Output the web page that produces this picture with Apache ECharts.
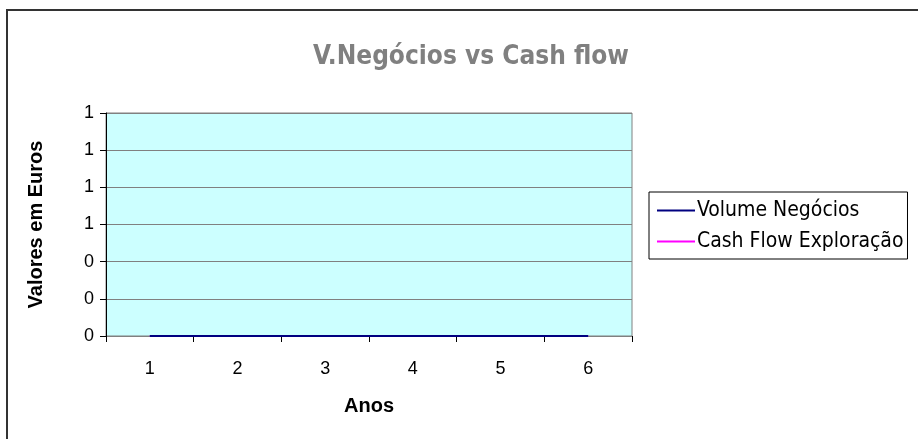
<!DOCTYPE html>
<html>
<head>
<meta charset="utf-8">
<script src="https://cdn.jsdelivr.net/npm/echarts@6/dist/echarts.min.js"></script>
<style>
html,body{margin:0;padding:0;background:#fff;}
#chart{width:918px;height:439px;}
</style>
</head>
<body>
<div id="chart"></div>
<script>
var categories = ['1', '2', '3', '4', '5', '6'];
var volumeNegocios = [0, 0, 0, 0, 0, 0];
var cashFlowExploracao = [0, 0, 0, 0, 0, 0];
var seriesNames = ['Volume Negócios', 'Cash Flow Exploração'];

var chart = echarts.init(document.getElementById('chart'));
chart.setOption({
  animation: false,
  backgroundColor: '#ffffff',
  graphic: [{
    type: 'rect',
    shape: { x: 7, y: 10, width: 930, height: 450 },
    style: { fill: 'none', stroke: '#333333', lineWidth: 2 },
    silent: true
  }],
  title: {
    text: 'V.Negócios vs Cash flow',
    left: 466,
    top: 39,
    textAlign: 'center',
    textStyle: { color: '#808080', fontSize: 26, fontWeight: 'bold', fontFamily: 'DejaVu Sans Condensed' }
  },
  legend: {
    orient: 'vertical',
    left: 649,
    top: 192,
    width: 256,
    padding: [8, 4, 7, 8],
    itemGap: 10,
    itemWidth: 38,
    itemHeight: 2,
    icon: 'rect',
    borderColor: '#000000',
    borderWidth: 1,
    textStyle: { color: '#000000', fontSize: 21, fontFamily: 'DejaVu Sans Condensed', padding: [0, 0, 0, -3] },
    data: seriesNames
  },
  grid: {
    left: 106,
    top: 113,
    width: 526,
    height: 223,
    show: true,
    backgroundColor: '#CCFFFF',
    borderColor: '#808080',
    borderWidth: 1
  },
  xAxis: {
    type: 'category',
    data: categories,
    boundaryGap: true,
    name: 'Anos',
    nameLocation: 'middle',
    nameGap: 60,
    nameTextStyle: { color: '#000', fontSize: 20, fontWeight: 'bold', fontFamily: 'Liberation Sans' },
    axisLine: { lineStyle: { color: '#808080', width: 1 } },
    axisTick: { show: true, alignWithLabel: false, length: 6, lineStyle: { color: '#000' } },
    axisLabel: { color: '#000', fontSize: 18, fontFamily: 'Liberation Sans', margin: 24 }
  },
  yAxis: {
    type: 'value',
    min: 0,
    max: 1.2,
    interval: 0.2,
    name: 'Valores em Euros',
    nameLocation: 'middle',
    nameGap: 60,
    nameTextStyle: { color: '#000', fontSize: 20, fontWeight: 'bold', fontFamily: 'Liberation Sans' },
    axisLine: { show: true, lineStyle: { color: '#000', width: 1 } },
    axisTick: { show: true, length: 6, lineStyle: { color: '#000' } },
    axisLabel: {
      color: '#000', fontSize: 18, fontFamily: 'Liberation Sans', margin: 12,
      formatter: function (v) { return String(Math.round(v)); }
    },
    splitLine: { show: true, lineStyle: { color: '#808080', width: 1 } }
  },
  series: [
    {
      name: seriesNames[0],
      type: 'line',
      data: volumeNegocios,
      symbol: 'none',
      z: 3,
      itemStyle: { color: '#000080' },
      lineStyle: { color: '#000080', width: 2 }
    },
    {
      name: seriesNames[1],
      type: 'line',
      data: cashFlowExploracao,
      symbol: 'none',
      z: 2,
      itemStyle: { color: '#FF00FF' },
      lineStyle: { color: '#FF00FF', width: 2 }
    }
  ]
});
</script>
</body>
</html>
